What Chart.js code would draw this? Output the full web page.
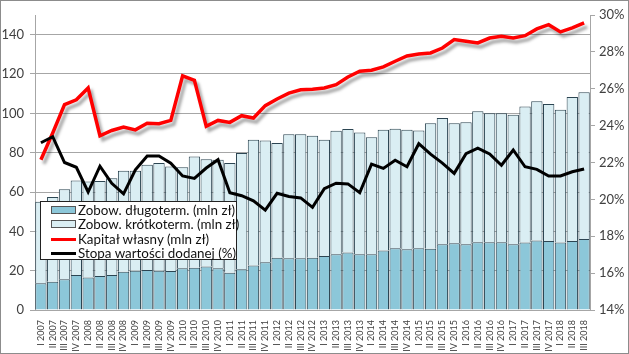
<!DOCTYPE html>
<html>
<head>
<meta charset="utf-8">
<script src="https://cdn.jsdelivr.net/npm/chart.js@4"></script>
<style>
  body { margin: 0; background: #fff; }
  #wrap { position: relative; width: 629px; height: 354px; box-sizing: border-box; border: 1px solid #8c8c8c; font-family: Lato, sans-serif; }
  #legend { position: absolute; left: 39px; top: 200px; width: 197px; height: 59px; box-sizing: border-box; border: 1px solid #222; background: #fff; padding-top: 1px; }
  .row { height: 14.4px; line-height: 14.4px; font-size: 13.4px; color: #111; white-space: nowrap; position: relative; padding-left: 37px; }
  .sw { position: absolute; left: 10px; top: 3px; width: 25px; height: 8px; border: 1px solid #555; box-sizing: border-box; }
  .ln { position: absolute; left: 10px; top: 6px; width: 25px; height: 3px; }
</style>
</head>
<body>
<div id="wrap">
  <canvas id="c" width="627" height="352"></canvas>
  <div id="legend">
    <div class="row"><span class="sw" style="background:#8cc7d9"></span>Zobow. długoterm. (mln zł)</div>
    <div class="row"><span class="sw" style="background:#daeef3"></span>Zobow. krótkoterm. (mln zł)</div>
    <div class="row"><span class="ln" style="background:#ff0000"></span>Kapitał własny (mln zł)</div>
    <div class="row"><span class="ln" style="background:#000"></span>Stopa wartości dodanej (%)</div>
  </div>
</div>
<script>
const quarters = [
  'I 2007','II 2007','III 2007','IV 2007','I 2008','II 2008','III 2008','IV 2008',
  'I 2009','II 2009','III 2009','IV 2009','I 2010','II 2010','III 2010','IV 2010',
  'I 2011','II 2011','III 2011','IV 2011','I 2012','II 2012','III 2012','IV 2012',
  'I 2013','II 2013','III 2013','IV 2013','I 2014','II 2014','III 2014','IV 2014',
  'I 2015','II 2015','III 2015','IV 2015','I 2016','II 2016','III 2016','IV 2016',
  'I 2017','II 2017','III 2017','IV 2017','I 2018','II 2018','III 2018'
];

// mln zł
const longTerm = [
  13.6, 14.4, 15.6, 17.8, 16.5, 17.3, 17.8, 19.5, 20.0, 20.4, 20.0, 19.8,
  21.2, 21.5, 22.1, 21.2, 19.0, 20.7, 22.6, 24.3, 26.6, 26.3, 26.3, 26.6,
  27.5, 28.4, 29.2, 28.4, 28.4, 30.2, 31.4, 30.9, 31.4, 31.2, 33.4, 33.9,
  33.4, 34.4, 34.4, 34.4, 33.4, 34.3, 35.3, 35.1, 34.3, 35.1, 36.1
];
const shortTerm = [
  41.5, 43.0, 45.8, 48.0, 48.8, 48.3, 49.2, 51.3, 50.8, 53.4, 54.7, 53.2,
  51.4, 56.6, 54.6, 55.2, 55.7, 59.1, 64.0, 61.9, 58.3, 63.1, 63.1, 62.0,
  59.1, 62.7, 62.8, 61.9, 59.5, 61.4, 60.8, 60.7, 59.9, 63.8, 64.2, 61.1,
  62.1, 66.7, 65.7, 65.7, 65.9, 69.2, 70.9, 69.6, 67.5, 73.2, 74.6
];
const equity = [
  76.4, 90.0, 104.4, 106.9, 112.9, 88.6, 91.3, 93.0, 91.6, 95.0, 94.7, 96.4,
  119.1, 116.8, 93.4, 96.4, 95.4, 98.8, 97.6, 103.9, 107.3, 110.3, 112.0, 112.3,
  112.9, 114.6, 118.5, 121.4, 121.9, 123.6, 126.5, 129.2, 130.2, 130.7, 133.2, 137.5,
  136.6, 135.8, 138.3, 139.2, 138.3, 139.5, 142.9, 145.1, 141.4, 143.4, 146.0
];
// %
const valueAddedRate = [
  23.07, 23.4, 22.0, 21.74, 20.4, 21.8, 20.87, 20.3, 21.6, 22.35, 22.35, 21.96,
  21.27, 21.14, 21.7, 22.15, 20.36, 20.2, 19.92, 19.42, 20.33, 20.16, 20.08, 19.57,
  20.58, 20.88, 20.84, 20.36, 21.91, 21.68, 22.12, 21.77, 23.02, 22.45, 21.97, 21.41,
  22.48, 22.78, 22.46, 21.85, 22.68, 21.77, 21.63, 21.27, 21.27, 21.5, 21.65
];

const leftTicks = [0, 20, 40, 60, 80, 100, 120, 140];
const rightTicks = [14, 16, 18, 20, 22, 24, 26, 28, 30];

const gridGray = '#a6a6a6';
const tickText = '#404040';

const shadowPlugin = {
  id: 'redShadow',
  beforeDatasetDraw(chart, args) {
    if (args.index !== 2) return;
    const ctx = chart.ctx;
    ctx.save();
    ctx.shadowColor = 'rgba(0,0,0,0.35)';
    ctx.shadowOffsetX = 3;
    ctx.shadowOffsetY = 4;
    ctx.shadowBlur = 3;
  },
  afterDatasetDraw(chart, args) {
    if (args.index === 2) chart.ctx.restore();
  }
};

new Chart(document.getElementById('c'), {
  data: {
    labels: quarters,
    datasets: [
      {
        type: 'bar', label: 'Zobow. długoterm. (mln zł)', data: longTerm, stack: 'liab', yAxisID: 'y',
        backgroundColor: '#8cc7d9', borderColor: '#2c4552', borderWidth: 1,
        barPercentage: 1, categoryPercentage: 0.96, order: 2
      },
      {
        type: 'bar', label: 'Zobow. krótkoterm. (mln zł)', data: shortTerm, stack: 'liab', yAxisID: 'y',
        backgroundColor: '#daeef3', borderColor: '#2c4552', borderWidth: 1,
        barPercentage: 1, categoryPercentage: 0.96, order: 2
      },
      {
        type: 'line', label: 'Kapitał własny (mln zł)', data: equity, stack: 'eq', yAxisID: 'y',
        borderColor: '#ff0000', borderWidth: 3.5, pointRadius: 0, tension: 0, order: 1
      },
      {
        type: 'line', label: 'Stopa wartości dodanej (%)', data: valueAddedRate, stack: 'rate', yAxisID: 'y1',
        borderColor: '#000000', borderWidth: 3, pointRadius: 0, tension: 0, order: 0
      }
    ]
  },
  options: {
    responsive: false,
    devicePixelRatio: 1,
    animation: false,
    layout: { padding: { top: 14, left: 0, right: 0, bottom: 0 } },
    plugins: { legend: { display: false }, tooltip: { enabled: false } },
    scales: {
      x: {
        stacked: true,
        grid: { display: false },
        border: { display: true, color: gridGray },
        ticks: {
          autoSkip: false, minRotation: 90, maxRotation: 90, padding: 2,
          color: tickText, font: { family: 'Lato', size: 9 }
        },
        afterFit: s => { s.height = 43; }
      },
      y: {
        stacked: true, position: 'left', min: 0, max: 150,
        afterBuildTicks: s => { s.ticks = leftTicks.map(v => ({ value: v })); },
        grid: { color: gridGray, tickLength: 5 },
        border: { display: true, color: gridGray },
        ticks: { padding: 6, color: tickText, font: { family: 'Lato', size: 13 } },
        afterFit: s => { s.width = 34; }
      },
      y1: {
        position: 'right', min: 14, max: 30,
        afterBuildTicks: s => { s.ticks = rightTicks.map(v => ({ value: v })); },
        grid: { drawOnChartArea: false, color: gridGray, tickLength: 5 },
        border: { display: true, color: gridGray },
        ticks: { padding: 4, color: tickText, font: { family: 'Lato', size: 13 }, callback: v => v + '%' },
        afterFit: s => { s.width = 38; }
      }
    }
  },
  plugins: [shadowPlugin]
});
</script>
</body>
</html>
